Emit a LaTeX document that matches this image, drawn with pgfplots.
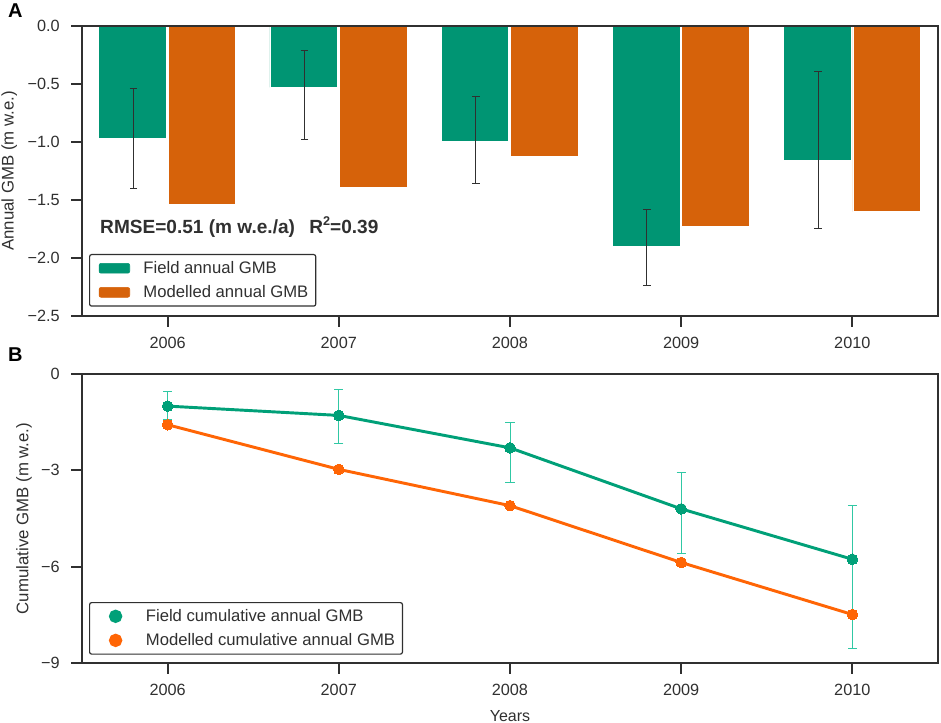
\documentclass[border=0pt]{standalone}
\usepackage{fontspec}
\setmainfont{Liberation Sans}
\usepackage{pgfplots}
\pgfplotsset{compat=1.18}
\usepackage{pgfplotstable}
\definecolor{txt}{HTML}{303030}
\definecolor{spine}{HTML}{303030}
\definecolor{fieldbar}{HTML}{009573}
\definecolor{modelbar}{HTML}{D6620A}
\definecolor{fieldline}{HTML}{00A078}
\definecolor{modelline}{HTML}{FF6505}
\definecolor{fielderr}{HTML}{30C8A4}

% x, value, err plus, err minus
\pgfplotstableread{
x y p m
2005.8 -0.97 0.43 0.43
2006.8 -0.53 0.32 0.45
2007.8 -0.99 0.38 0.37
2008.8 -1.90 0.32 0.34
2009.8 -1.16 0.77 0.59
}\annualerr
\pgfplotstableread{
x y p m
2006 -1.00 0.45 0.41
2007 -1.29 0.82 0.88
2008 -2.30 0.80 1.08
2009 -4.20 1.12 1.39
2010 -5.77 1.69 2.77
}\cumfield

\pgfplotsset{
  panel/.style={
    scale only axis, width=642pt,
    xmin=2005.5, xmax=2010.5,
    xtick={2006,...,2010}, xticklabels={2006,2007,2008,2009,2010},
    xtick pos=bottom, ytick pos=left, tick align=outside,
    major tick length=8.25pt,
    tick style={spine, line width=1.6pt},
    axis line style={spine, line width=1.6pt},
    tick label style={font=\fontsize{12.2}{14}\selectfont, text=txt},
    yticklabel style={xshift=-5pt},
    xticklabel style={yshift=-4pt},
    axis on top,
    legend cell align=left,
    legend style={anchor=north west, draw=spine, line width=0.9pt, rounded corners=1.5pt,
      font=\fontsize{12.5}{15}\selectfont, text=txt, inner xsep=3.5pt, inner ysep=3pt,
      row sep=3.5pt},
  },
  keybar/.style={legend image code/.code={\fill[#1] (3.4pt,-3.7pt) rectangle (26.4pt,3.7pt);\path (0pt,0pt) (34.5pt,0pt);}},
  keydot/.style={legend image code/.code={\fill[#1] (14.9pt,0pt) circle (3.9pt);\path (0pt,0pt) (34.5pt,0pt);}},
}

\begin{document}
\begin{tikzpicture}
\path[use as bounding box] (0pt,0pt) rectangle (705.75pt,542.25pt);
\node[font=\fontsize{15}{15}\selectfont\bfseries, text=black, anchor=center] at (11.5pt,534pt) {A};
\node[font=\fontsize{15}{15}\selectfont\bfseries, text=black, anchor=center] at (11.5pt,276pt) {B};

\begin{axis}[panel, at={(61.5pt,522.75pt)}, anchor=north west, height=217.5pt,
    ymin=-2.5, ymax=0,
    ytick={-2.5,-2,-1.5,-1,-0.5,0},
    yticklabels={−2.5,−2.0,−1.5,−1.0,−0.5,0.0},
    ylabel={Annual GMB (m w.e.)},
    every axis y label/.style={at={(axis description cs:-0.085,0.5)},rotate=90,anchor=center,
      font=\fontsize{12.6}{15}\selectfont, text=txt},
    legend style={at={(rel axis cs:0.0082,0.2138)}},
]
\addplot[ybar, bar width=0.395, bar shift=-0.205, fill=fieldbar, draw=white, line width=0.4pt,
    keybar=fieldbar] coordinates {
    (2006,-0.97) (2007,-0.53) (2008,-0.99) (2009,-1.90) (2010,-1.16)};
\addlegendentry{Field annual GMB}
\addplot[ybar, bar width=0.395, bar shift=0.2, fill=modelbar, draw=white, line width=0.4pt,
    keybar=modelbar] coordinates {
    (2006,-1.54) (2007,-1.39) (2008,-1.12) (2009,-1.73) (2010,-1.60)};
\addlegendentry{Modelled annual GMB}
\addplot[draw=none, mark=none, forget plot,
    error bars/.cd, y dir=both, y explicit,
    error bar style={draw=spine, line width=0.75pt},
    error mark options={rotate=90, draw=spine, mark size=2.8pt, line width=0.75pt}]
    table[x=x, y=y, y error plus=p, y error minus=m] {\annualerr};
\node[anchor=west, font=\fontsize{14.3}{16}\selectfont\bfseries, text=txt, inner sep=0pt]
    at (rel axis cs:0.0210,0.3060) {RMSE=0.51 (m w.e./a)\hspace{0.75em}R\raisebox{0.42em}{\fontsize{9.5}{9.5}\selectfont 2}=0.39};
\end{axis}

\begin{axis}[panel, at={(61.5pt,261.75pt)}, anchor=north west, height=216.75pt,
    ymin=-9, ymax=0,
    ytick={-9,-6,-3,0},
    yticklabels={−9,−6,−3,0},
    xlabel={Years},
    ylabel={Cumulative GMB (m w.e.)},
    every axis y label/.style={at={(axis description cs:-0.0678,0.5)},rotate=90,anchor=center,
      font=\fontsize{12.6}{15}\selectfont, text=txt},
    every axis x label/.style={at={(axis description cs:0.5,-0.183)},anchor=center,
      font=\fontsize{12}{15}\selectfont, text=txt},
    legend style={at={(rel axis cs:0.0082,0.211)}},
]
\addplot[draw=none, mark=none, forget plot,
    error bars/.cd, y dir=both, y explicit,
    error bar style={draw=fielderr, line width=0.75pt},
    error mark options={rotate=90, draw=fielderr, mark size=3.4pt, line width=0.75pt}]
    table[x=x, y=y, y error plus=p, y error minus=m] {\cumfield};
\addplot[fieldline, line width=2.2pt, mark=*, mark size=4pt, keydot=fieldline,
    mark options={fill=fieldline, draw=fieldline, line width=0pt}]
    table[x=x, y=y] {\cumfield};
\addlegendentry{Field cumulative annual GMB}
\addplot[modelline, line width=2.2pt, mark=*, mark size=4pt, keydot=modelline,
    mark options={fill=modelline, draw=modelline, line width=0pt}] coordinates {
    (2006,-1.58) (2007,-2.97) (2008,-4.10) (2009,-5.87) (2010,-7.49)};
\addlegendentry{Modelled cumulative annual GMB}
\end{axis}
\end{tikzpicture}
\end{document}
